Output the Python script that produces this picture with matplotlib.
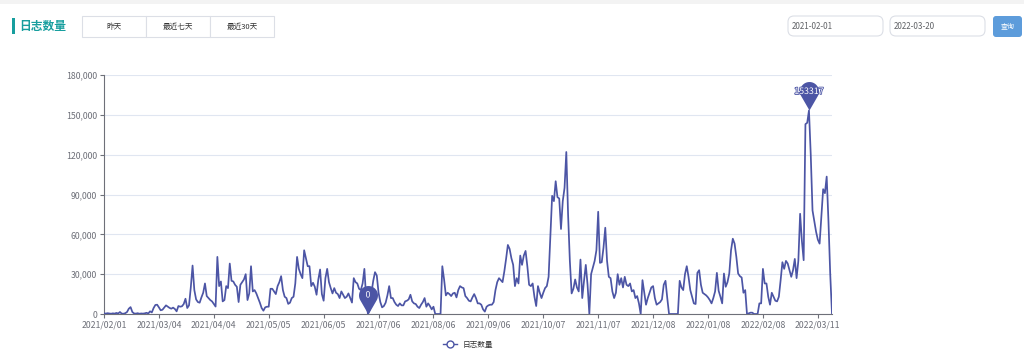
import numpy as np
import pandas as pd
import matplotlib
matplotlib.use("Agg")
import matplotlib.pyplot as plt
import matplotlib.patheffects as pe
from matplotlib.path import Path
from matplotlib.patches import FancyBboxPatch, Rectangle
from matplotlib.lines import Line2D
from matplotlib.ticker import FuncFormatter

plt.rcParams['font.family'] = ['Noto Sans CJK SC', 'DejaVu Sans']

# -----------------------------------------------------------------------------
# Data (daily log counts)
# -----------------------------------------------------------------------------
start_date = "2021-02-01"
series_name = "日志数量"

feb_21 = [500, 300, 600, 400, 200, 500, 300, 800, 400, 1500,
          300, 200, 600, 1500, 4000, 5200, 1500, 400, 300, 600,
          200, 400, 300, 500, 900, 400, 2000, 1200]
mar_21 = [4500, 6800, 7000, 5000, 2800, 3200, 4800, 6500, 5500, 4600,
          4000, 4800, 3800, 2000, 6000, 5500, 5800, 7500, 11500, 4500,
          6500, 20000, 36500, 18000, 11000, 9000, 8500, 12500, 16000, 23000,
          13500]
apr_21 = [12000, 10500, 9500, 7500, 5600, 43000, 21000, 24500, 9500, 10500,
          21000, 19500, 38000, 25000, 24500, 22000, 20500, 9000, 22000, 24000,
          26000, 30000, 10500, 15500, 36000, 17000, 18000, 15500, 12000, 8500]
may_21 = [4500, 2500, 5000, 5500, 5500, 19000, 19000, 17000, 15000, 21000,
          24000, 28500, 18000, 13000, 12000, 7600, 8500, 12000, 13000, 23000,
          43000, 34000, 30000, 27000, 48000, 42000, 36000, 36000, 21000, 23500,
          20500]
jun_21 = [14500, 26000, 33500, 15000, 10000, 27000, 34000, 24000, 19500, 15500,
          19500, 16000, 15000, 12000, 17000, 14500, 12000, 13000, 15500, 12000,
          8600, 27000, 24000, 23000, 19000, 18000, 23000, 34000, 12000, 0]
jul_21 = [3000, 16000, 25000, 31500, 29000, 16000, 9000, 5000, 6000, 8500,
          14000, 21000, 12000, 12000, 9000, 7000, 6000, 8000, 6500, 6500,
          9500, 10000, 11000, 14500, 9500, 8000, 7500, 5500, 4500, 7000,
          9000]
aug_21 = [12000, 5500, 8000, 6000, 3500, 5500, 0, 0, 0, 0,
          36000, 26000, 14000, 16000, 15000, 13500, 15500, 16000, 12500, 18000,
          21000, 20000, 19500, 13500, 12000, 10000, 9500, 12500, 15000, 12000,
          8000]
sep_21 = [8000, 7000, 3500, 1800, 5500, 6500, 7000, 7000, 9000, 18000,
          24000, 27000, 25500, 24000, 32000, 41500, 52000, 49000, 42000, 37000,
          21000, 27000, 23000, 44000, 37000, 44000, 47500, 36000, 22000, 21000]
oct_21 = [23000, 13000, 6000, 21000, 16000, 12000, 16000, 19500, 21000, 28000,
          59000, 89000, 85000, 100000, 88000, 87000, 64000, 85000, 95000, 122000,
          75000, 40000, 15500, 19000, 26000, 20000, 17000, 41000, 12000, 25000,
          37000]
nov_21 = [22000, 0, 30000, 35000, 40000, 48000, 77000, 38500, 39000, 50000,
          65000, 40000, 28000, 27000, 17000, 12000, 16000, 30000, 22000, 27000,
          20000, 28000, 22000, 21000, 23000, 17000, 18000, 12000, 13500, 8000]
dec_21 = [0, 25500, 16000, 7000, 12000, 16000, 20000, 21000, 12000, 7000,
          8000, 9000, 11000, 22000, 25000, 12000, 0, 0, 0, 0,
          0, 0, 25000, 20000, 18000, 30000, 36000, 28000, 18000, 13000,
          8000]
jan_22 = [7500, 31000, 33000, 22000, 16000, 15000, 14000, 12500, 10500, 8000,
          12000, 17000, 31000, 17500, 13000, 8000, 30500, 20500, 24000, 30500,
          48000, 56700, 53000, 43000, 30500, 28500, 27500, 16000, 18000, 0,
          500]
feb_22 = [1000, 1000, 0, 0, 0, 8000, 8000, 34000, 23000, 23000,
          13000, 7000, 16000, 13000, 10000, 9500, 13000, 25500, 39000, 34000,
          40000, 38000, 33000, 28000, 33000, 41500, 27000, 40000]
mar_22 = [75500, 55000, 40500, 143000, 144000, 153317, 120000, 78000, 70000, 62000,
          56000, 53000, 73000, 94000, 91000, 103500, 70000, 30000, 0]

counts = np.array(feb_21 + mar_21 + apr_21 + may_21 + jun_21 + jul_21 + aug_21
                  + sep_21 + oct_21 + nov_21 + dec_21 + jan_22 + feb_22 + mar_22)
dates = pd.date_range(start_date, periods=len(counts), freq="D")

y_ticks = [0, 30000, 60000, 90000, 120000, 150000, 180000]
label_step = 31

buttons = ["昨天", "最近七天", "最近30天"]
date_inputs = ["2021-02-01", "2022-03-20"]
query_label = "查询"

# -----------------------------------------------------------------------------
# Style
# -----------------------------------------------------------------------------
LINE_COLOR = "#4c55a5"
TEAL = "#179e9e"
AXIS_COLOR = "#6e7079"
GRID_COLOR = "#e0e6f1"
BORDER = "#dcdfe6"

W, H = 1024, 358
fig = plt.figure(figsize=(W / 100, H / 100), dpi=100)

# =========================
# Page header (pixel coords)
# =========================
ui = fig.add_axes([0, 0, 1, 1])
ui.set_xlim(0, W)
ui.set_ylim(H, 0)
ui.axis("off")

ui.add_patch(Rectangle((0, 0), W, 4, facecolor="#f3f3f3", edgecolor="none"))
ui.add_patch(Rectangle((12, 18), 3, 16, facecolor=TEAL, edgecolor="none"))
ui.text(19, 26, series_name, ha="left", va="center", fontsize=8.5,
        fontweight="bold", color=TEAL)

for i, lab in enumerate(buttons):
    x0 = 82 + 64 * i
    ui.add_patch(Rectangle((x0, 16), 64, 21, facecolor="white",
                           edgecolor=BORDER, lw=0.8))
    ui.text(x0 + 32, 27, lab, ha="center", va="center", fontsize=5.5,
            color="#333333")

for i, lab in enumerate(date_inputs):
    x0 = 788 + 102 * i
    ui.add_patch(FancyBboxPatch((x0, 16), 95, 20,
                                boxstyle="round,pad=0,rounding_size=6",
                                facecolor="white", edgecolor=BORDER, lw=0.8))
    ui.text(x0 + 4, 26.5, lab, ha="left", va="center", fontsize=5.8,
            color="#606266")

ui.add_patch(FancyBboxPatch((993, 16), 29, 21,
                            boxstyle="round,pad=0,rounding_size=3",
                            facecolor="#5d9cdb", edgecolor="none"))
ui.text(1007.5, 26.5, query_label, ha="center", va="center", fontsize=5,
        color="white")

# =========================
# Line chart
# =========================
left, right, top, bottom = 104, 832, 75, 314
ax = fig.add_axes([left / W, 1 - bottom / H, (right - left) / W, (bottom - top) / H])
ax.set_facecolor("none")

x = np.arange(len(counts))
ax.plot(x, counts, color=LINE_COLOR, lw=1.25, zorder=3)

ax.set_xlim(0, len(counts) - 1)
ax.set_ylim(y_ticks[0], y_ticks[-1])
ax.set_yticks(y_ticks)
ax.yaxis.set_major_formatter(FuncFormatter(lambda v, p: f"{int(v):,}"))
tick_idx = np.arange(0, len(counts), label_step)
ax.set_xticks(tick_idx)
ax.set_xticklabels([dates[i].strftime("%Y/%m/%d") for i in tick_idx])

ax.grid(axis="y", color=GRID_COLOR, lw=0.8)
ax.set_axisbelow(True)
for s in ["top", "right"]:
    ax.spines[s].set_visible(False)
for s in ["left", "bottom"]:
    ax.spines[s].set_color(AXIS_COLOR)
    ax.spines[s].set_linewidth(0.8)
ax.tick_params(axis="both", colors=AXIS_COLOR, labelsize=6.3, length=3,
               width=0.8, pad=2)

# markPoint pins (max / min)
theta = np.linspace(np.deg2rad(-30), np.deg2rad(210), 40)
pin_verts = [(0, 0)] + [(np.cos(t), 2 + np.sin(t)) for t in theta] + [(0, 0)]
pin_codes = [Path.MOVETO] + [Path.LINETO] * (len(pin_verts) - 2) + [Path.CLOSEPOLY]
pin = Path(pin_verts, pin_codes)
pin_ms = 41

for idx in [int(np.argmax(counts)), int(np.argmin(counts))]:
    ax.plot(idx, counts[idx], marker=pin, ms=pin_ms, color=LINE_COLOR,
            mec="none", clip_on=False, zorder=5)
    ax.annotate(f"{counts[idx]}", (idx, counts[idx]), xytext=(0, pin_ms / 3),
                textcoords="offset points", ha="center", va="center",
                fontsize=6.3, color="white", zorder=6, annotation_clip=False,
                path_effects=[pe.withStroke(linewidth=1.2, foreground=LINE_COLOR)])

# legend
handle = Line2D([], [], color=LINE_COLOR, lw=1, marker="o", ms=5,
                mfc="white", mec=LINE_COLOR)
fig.legend([handle], [series_name], loc="center",
           bbox_to_anchor=(468 / W, 1 - 345 / H), frameon=False,
           fontsize=5.5, handlelength=1.8, labelcolor="#333333")

fig.savefig("out.png", dpi=100)
